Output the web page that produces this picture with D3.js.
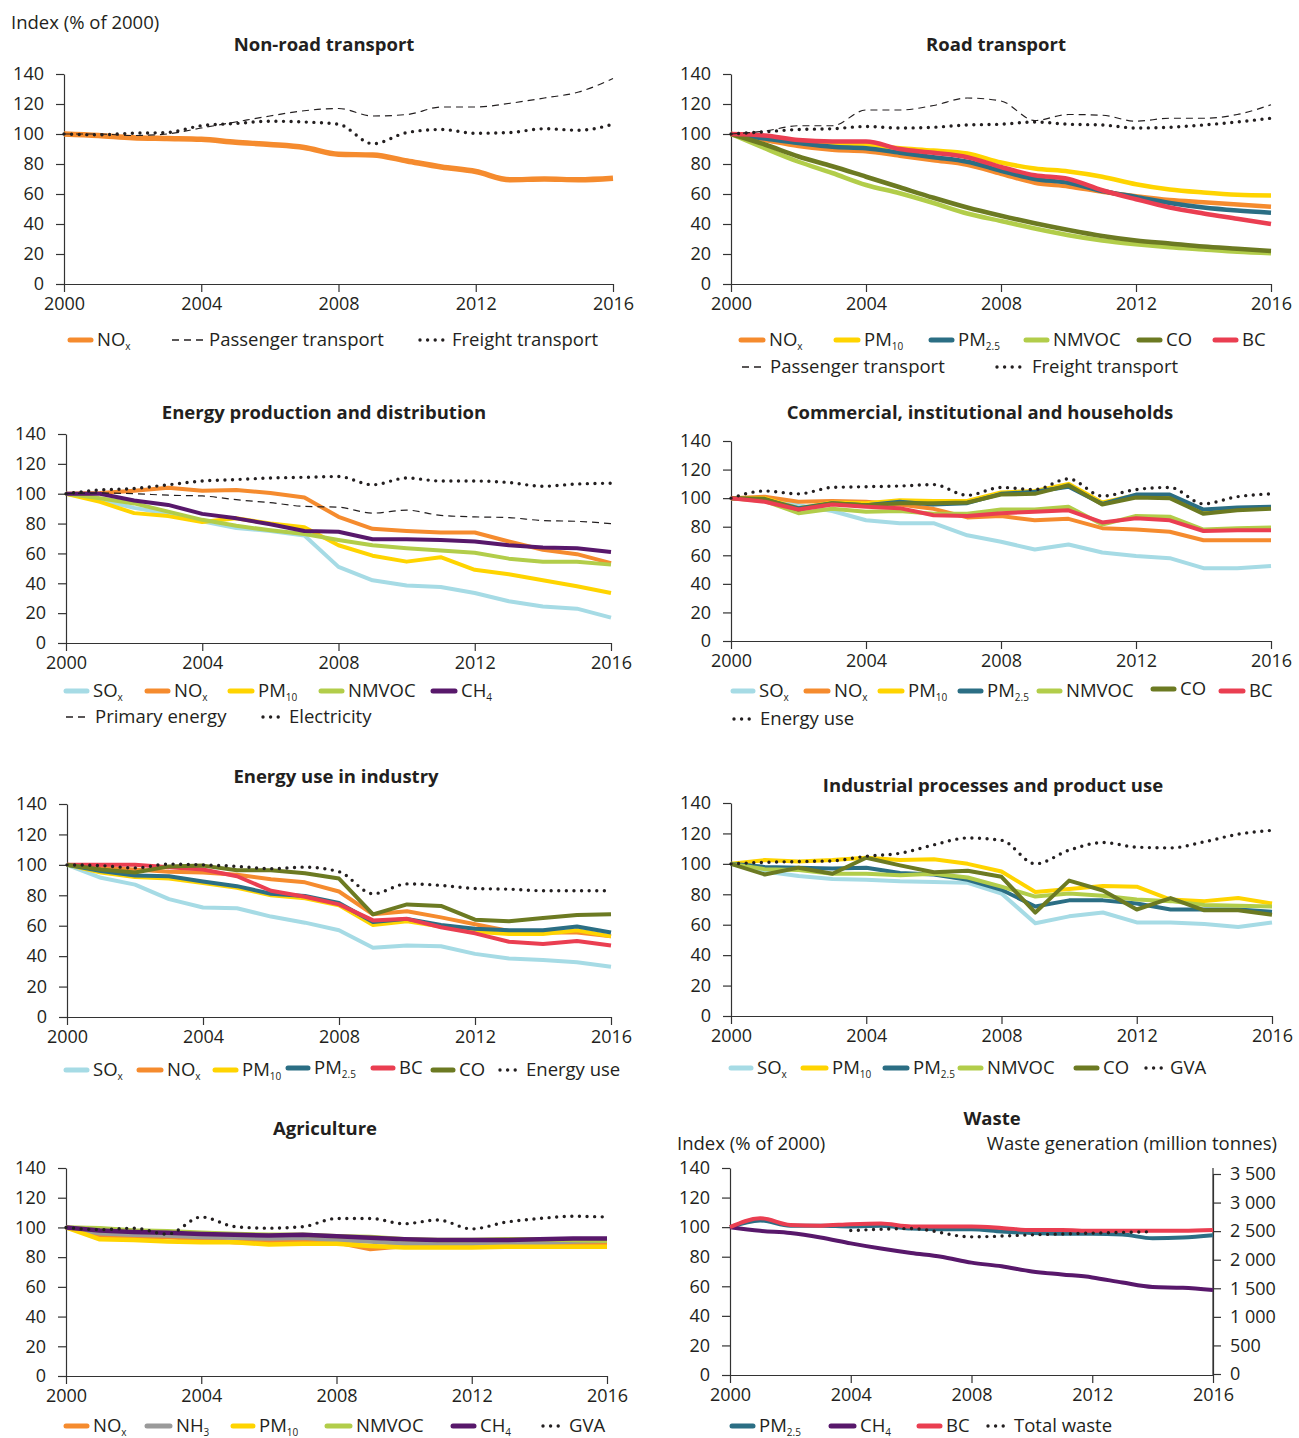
<!DOCTYPE html>
<html>
<head>
<meta charset="utf-8">
<script src="https://cdn.jsdelivr.net/npm/d3@7"></script>
<style>
body { margin: 0; background: #fff; }
svg text { font-family: "Open Sans", sans-serif; fill: #231f20; }
.tick text { font-size: 18px; }
.legend text { font-size: 18.5px; }
</style>
</head>
<body>
<div class="chart"></div>
<script>
const years = [2000,2001,2002,2003,2004,2005,2006,2007,2008,2009,2010,2011,2012,2013,2014,2015,2016];
const xTicks = [2000,2004,2008,2012,2016];
const yTicks = [0,20,40,60,80,100,120,140];
const wasteTicks = [0,500,1000,1500,2000,2500,3000,3500];
const wasteTickLabels = ["0","500","1 000","1 500","2 000","2 500","3 000","3 500"];

// Non-road transport
const nrNOx = [100,99,97.5,97,96.5,94.5,93,91,86.5,86,82,78,75,69.5,70,69.5,70.5];
const nrPassenger = [100,100,99,100,104,108,112,115.5,117,112,113,118,118,120.5,124,128,137];
const nrFreight = [100,99.5,100.5,101,105.5,107,108.5,108,106.5,93.5,101,103,100.5,101,103.5,102.5,106.5];

// Road transport
const rtNOx = [100,96,92,89.5,88.5,85.5,82.5,79.5,73.5,67.5,65,61.5,58.5,56,54.5,53,51.5];
const rtPM10 = [100,97.5,95,93,92.5,90.5,89,87,81,77,75,71.5,66.5,63,61,59.5,59];
const rtPM25 = [100,97,94,91.5,90.5,87.5,84.5,81.5,75.5,70,67.5,62,58,54,51,49,47.5];
const rtNMVOC = [100,90.5,81.5,74,66,60.5,54,47,42,37,32.5,29,26.5,24.5,23,21.5,20.5];
const rtCO = [100,93,85,78.5,71.5,64.5,57.5,51,45.5,40.5,36,32,29,27,25,23.5,22];
const rtBC = [100,99,96,95,95,90,87.5,84.5,78,72.5,70,62.5,56.5,51,47,43.5,40];
const rtPassenger = [100,102,105.5,105.5,116,116,119,124,122,109,113,112.5,108.5,110.5,110.5,113,119.5];
const rtFreight = [100,101.5,103,103.5,105,104,104.5,106,106.5,108,106.5,106,104,104.5,106,108,110.5];

// Energy production and distribution
const epSOx = [100,96,90.5,86.5,81.5,77,75,72,51,42,38.5,37.5,33.5,28,24.5,23,17];
const epNOx = [100,100.5,102,104,102,102.5,100.5,97.5,84.5,76.5,75,74,74,68,62.5,59.5,53.5];
const epPM10 = [100,94.5,87,85,81,83.5,80,77.5,65.5,58.5,54.5,57.5,49,46,42,38,33.5];
const epNMVOC = [100,97,93.5,88,82.5,78.5,75.5,73,69,65.5,63.5,62,60.5,56.5,54.5,54.5,52.5];
const epCH4 = [100,100,95.5,92.5,86.5,83.5,79.5,75,74.5,69.5,69.5,69,68,65.5,64,63.5,61];
const epPrimary = [100,100.5,100,99,98.5,96,94,91.5,91,87,89,85.5,84.5,84,82,81.5,80];
const epElectricity = [100,102.5,103.5,106,108.5,109.5,110.5,111,111.5,106,110.5,108.5,108.5,107.5,105,106.5,107];

// Commercial, institutional and households
const chSOx = [100,99.5,95,91,84.5,82.5,82.5,74,69.5,64,67.5,62,59.5,58,51,51,52.5];
const chNOx = [100,101,97.5,98,97.5,95.5,92.5,86.5,87.5,84.5,85.5,79,78,76.5,70.5,70.5,70.5];
const chPM10 = [100,100,93,97,96.5,98.5,98,98,104,105,110,97,102,101.5,91,93,93.5];
const chPM25 = [100,99,93,96.5,95,97.5,95.5,96.5,103,104.5,108,96,102.5,102.5,92,93.5,94];
const chNMVOC = [100,98,89.5,92.5,90.5,91,89,89,92,92,94,81.5,87.5,87,78,79,79.5];
const chCO = [100,99.5,92,96.5,95,96.5,96.5,97,102.5,103,109,95.5,100.5,100,89,91.5,92.5];
const chBC = [100,97.5,92,95.5,94,93,88,87.5,89.5,90.5,91.5,83,86,84.5,77,77.5,77.5];
const chEnergy = [100,105,103,107.5,108,108.5,109.5,102,107.5,106,113.5,101.5,106,107.5,96,101,103];

// Energy use in industry
const eiSOx = [100,91.5,87,77.5,72,71.5,66,62,57,45.5,47,46.5,41.5,38.5,37.5,36,33];
const eiNOx = [100,98,97,95.5,95,93.5,90.5,88.5,82.5,67.5,69.5,65.5,61,56.5,55.5,55.5,53];
const eiPM10 = [100,95,92,91,88,85,80,78,73.5,60.5,63,59.5,56,54.5,54.5,57,53];
const eiPM25 = [100,96,93,92.5,89,86,81,79.5,75,62.5,64.5,60.5,58,57,57,59.5,55.5];
const eiBC = [100,100,100,98.5,97,92.5,83,79,74,63.5,64.5,59,55,49.5,48,50,47];
const eiCO = [100,97,95,99,99.5,96.5,96.5,94.5,91,67.5,74,73,64,63,65,67,67.5];
const eiEnergy = [100,99.5,98,100.5,100,99,97.5,98.5,95.5,81,87.5,86.5,84.5,84,83,83,83];

// Industrial processes and product use
const ipSOx = [100,95,92,90,89.5,88.5,88,87.5,80.5,61,65.5,68,61.5,61.5,60.5,58.5,61.5];
const ipPM10 = [100,102.5,101.5,102.5,104,102.5,103,100,95,81.5,83.5,85.5,85,76.5,75.5,77.5,74];
const ipPM25 = [100,98,97.5,97,97.5,94,93,89.5,83,72,76,76,74,70,70,70,68.5];
const ipNMVOC = [100,96.5,96,93.5,93.5,92.5,93.5,91,85,78.5,80.5,79,76.5,75.5,73,72.5,72];
const ipCO = [100,93,97.5,93.5,104,99,94.5,95.5,91.5,68,89,82.5,70,77.5,69.5,69.5,66.5];
const ipGVA = [100,101,101.5,102,105,107,112.5,117,115.5,100,109,114,111,110.5,114.5,119.5,122];

// Agriculture
const agNOx = [100,94.5,93.5,93.5,92,90,90,90.5,90,85.5,87.5,87.5,87.5,87.5,87.5,88.5,88.5];
const agNH3 = [100,96,95,94.5,93.5,93,92.5,93,91.5,90.5,89,89,89,89,89.5,90.5,91];
const agPM10 = [100,92,91.5,90.5,90,90,88.5,89,89,87.5,86.5,86.5,86.5,87,87,87,87];
const agNMVOC = [100,99.5,98,97.5,96.5,95.5,95,95,94,93.5,92,91.5,91.5,92,92,91.5,91];
const agCH4 = [100,98,97,96.5,95.5,95,94.5,95,94,93,92,91.5,91.5,91.5,92,92.5,92.5];
const agGVA = [100,98.5,99.5,95.5,107,100.5,99.5,100.5,106,106,102.5,105,99,103.5,106,107.5,107];

// Waste
const wsPM25 = [100,104.5,101,101,100.5,101,99,98.5,98.5,97,96,95.5,95.5,95,92.5,93,94.5];
const wsCH4 = [100,97.5,96,93,89,85.5,82.5,80,76,73.5,70,68,66,62.5,59.5,59,57.5];
const wsBC = [100,106,101.5,101,102,102.5,100.5,100.5,100.5,99.5,98,98,97.5,97.5,97.5,97.5,98];
const wasteYears = [2004,2006,2008,2010,2012,2014];
const wsTotal = [2510,2545,2400,2435,2465,2490];

const colors = {
  "SO_x": "#a6dbe5", "NO_x": "#f58b2e", "PM_10": "#ffd400", "PM_2.5": "#2b6e84",
  "NMVOC": "#b2cd4a", "CO": "#6c7a22", "BC": "#ea3e51", "CH_4": "#58186b", "NH_3": "#9a9a9a"
};

const svg = d3.select('.chart').append('svg')
  .attr('width', 1299)
  .attr('height', 1438);

function addLabel(sel, str) {
  const parts = str.split('_');
  sel.append('tspan').text(parts[0]);
  if (parts[1]) sel.append('tspan').attr('font-size', 10).attr('dy', 4).text(parts[1]);
}

const panels = [
  {title: "Non-road transport", tx: 324, ty: 45, left: 64, right: 613, top: 74, bottom: 284, smooth: true, lw: 5.5,
   series: [["NO_x", nrNOx, "solid"], ["Passenger transport", nrPassenger, "dash"], ["Freight transport", nrFreight, "dot"]],
   legend: [[70, 91, 340, "NO_x"], [172, 203, 340, "Passenger transport"], [420, 446, 340, "Freight transport"]]},
  {title: "Road transport", tx: 996, ty: 45, left: 731, right: 1271, top: 74, bottom: 284, smooth: true, lw: 4.5,
   series: [["NO_x", rtNOx, "solid"], ["PM_10", rtPM10, "solid"], ["PM_2.5", rtPM25, "solid"], ["NMVOC", rtNMVOC, "solid"],
            ["CO", rtCO, "solid"], ["BC", rtBC, "solid"], ["Passenger transport", rtPassenger, "dash"], ["Freight transport", rtFreight, "dot"]],
   legend: [[741, 763, 340, "NO_x"], [836, 858, 340, "PM_10"], [931, 952, 340, "PM_2.5"], [1026, 1047, 340, "NMVOC"],
            [1139, 1160, 340, "CO"], [1215, 1236, 340, "BC"], [742, 764, 367, "Passenger transport"], [997, 1026, 367, "Freight transport"]]},
  {title: "Energy production and distribution", tx: 324, ty: 413, left: 66, right: 611, top: 434, bottom: 643, smooth: false, lw: 4,
   series: [["SO_x", epSOx, "solid"], ["NO_x", epNOx, "solid"], ["PM_10", epPM10, "solid"], ["NMVOC", epNMVOC, "solid"],
            ["CH_4", epCH4, "solid"], ["Primary energy", epPrimary, "dash"], ["Electricity", epElectricity, "dot"]],
   legend: [[66, 87, 691, "SO_x"], [147, 168, 691, "NO_x"], [230, 252, 691, "PM_10"], [321, 342, 691, "NMVOC"],
            [433, 455, 691, "CH_4"], [66, 89, 717, "Primary energy"], [263, 283, 717, "Electricity"]]},
  {title: "Commercial, institutional and households", tx: 980, ty: 413, left: 731, right: 1271, top: 441, bottom: 641, smooth: false, lw: 4,
   series: [["SO_x", chSOx, "solid"], ["NO_x", chNOx, "solid"], ["PM_10", chPM10, "solid"], ["PM_2.5", chPM25, "solid"],
            ["NMVOC", chNMVOC, "solid"], ["CO", chCO, "solid"], ["BC", chBC, "solid"], ["Energy use", chEnergy, "dot"]],
   legend: [[733, 753, 691, "SO_x"], [806, 828, 691, "NO_x"], [880, 902, 691, "PM_10"], [960, 981, 691, "PM_2.5"],
            [1039, 1060, 691, "NMVOC"], [1153, 1174, 689, "CO"], [1221, 1243, 691, "BC"], [734, 754, 719, "Energy use"]]},
  {title: "Energy use in industry", tx: 336, ty: 777, left: 67, right: 611, top: 804, bottom: 1017, smooth: false, lw: 4,
   series: [["SO_x", eiSOx, "solid"], ["NO_x", eiNOx, "solid"], ["PM_10", eiPM10, "solid"], ["PM_2.5", eiPM25, "solid"],
            ["BC", eiBC, "solid"], ["CO", eiCO, "solid"], ["Energy use", eiEnergy, "dot"]],
   legend: [[66, 87, 1070, "SO_x"], [139, 161, 1070, "NO_x"], [215, 236, 1070, "PM_10"], [288, 308, 1068, "PM_2.5"],
            [373, 393, 1068, "BC"], [433, 453, 1070, "CO"], [500, 520, 1070, "Energy use"]]},
  {title: "Industrial processes and product use", tx: 993, ty: 786, left: 731, right: 1272, top: 803, bottom: 1016, smooth: false, lw: 4,
   series: [["SO_x", ipSOx, "solid"], ["PM_10", ipPM10, "solid"], ["PM_2.5", ipPM25, "solid"], ["NMVOC", ipNMVOC, "solid"],
            ["CO", ipCO, "solid"], ["GVA", ipGVA, "dot"]],
   legend: [[731, 751, 1068, "SO_x"], [803, 826, 1068, "PM_10"], [885, 907, 1068, "PM_2.5"], [960, 981, 1068, "NMVOC"],
            [1076, 1097, 1068, "CO"], [1146, 1164, 1068, "GVA"]]},
  {title: "Agriculture", tx: 325, ty: 1129, left: 66, right: 607, top: 1168, bottom: 1376, smooth: false, lw: 4.5,
   series: [["NO_x", agNOx, "solid"], ["NH_3", agNH3, "solid"], ["PM_10", agPM10, "solid"], ["NMVOC", agNMVOC, "solid"],
            ["CH_4", agCH4, "solid"], ["GVA", agGVA, "dot"]],
   legend: [[66, 87, 1426, "NO_x"], [147, 170, 1426, "NH_3"], [233, 253, 1426, "PM_10"], [327, 350, 1426, "NMVOC"],
            [453, 474, 1426, "CH_4"], [543, 563, 1426, "GVA"]]},
  {title: "Waste", tx: 992, ty: 1119, left: 730, right: 1213, top: 1168, bottom: 1375, smooth: true, lw: 4,
   rightAxis: {top: 1174, bottom: 1374},
   series: [["PM_2.5", wsPM25, "solid"], ["CH_4", wsCH4, "solid"], ["BC", wsBC, "solid"], ["Total waste", wsTotal, "dot", wasteYears, "right"]],
   legend: [[732, 753, 1426, "PM_2.5"], [831, 854, 1426, "CH_4"], [919, 940, 1426, "BC"], [988, 1008, 1426, "Total waste"]]}
];

function styleFor(path, type, key, lw) {
  if (type === 'solid') {
    path.attr('stroke', colors[key]).attr('stroke-width', lw).attr('stroke-linejoin', 'round');
  } else if (type === 'dash') {
    path.attr('stroke', '#231f20').attr('stroke-width', 1.2).attr('stroke-dasharray', '7 5');
  } else {
    path.attr('stroke', '#231f20').attr('stroke-width', 3.4).attr('stroke-linecap', 'round').attr('stroke-dasharray', '0 7.6');
  }
  return path;
}

panels.forEach(p => {
  const x = d3.scaleLinear().domain([2000, 2016]).range([p.left, p.right]);
  const y = d3.scaleLinear().domain([0, 140]).range([p.bottom, p.top]);
  const g = svg.append('g');

  g.append('text')
    .attr('x', p.tx).attr('y', p.ty + 6)
    .attr('text-anchor', 'middle')
    .attr('font-weight', 'bold')
    .attr('font-size', 18.5)
    .text(p.title);

  g.append('g')
    .attr('transform', `translate(0,${p.bottom})`)
    .call(d3.axisBottom(x).tickValues(xTicks).tickFormat(d3.format('d')).tickSize(8).tickSizeOuter(0).tickPadding(5));
  g.append('g')
    .attr('transform', `translate(${p.left},0)`)
    .call(d3.axisLeft(y).tickValues(yTicks).tickSize(8).tickSizeOuter(0).tickPadding(12));

  let y2 = null;
  if (p.rightAxis) {
    y2 = d3.scaleLinear().domain([0, 3500]).range([p.rightAxis.bottom, p.rightAxis.top]);
    g.append('g')
      .attr('transform', `translate(${p.right},0)`)
      .call(d3.axisRight(y2).tickValues(wasteTicks).tickFormat((d, i) => wasteTickLabels[i]).tickSize(8).tickSizeOuter(0).tickPadding(9));
    g.append('path')
      .attr('d', `M${p.right},${p.top}V${p.bottom}`)
      .attr('stroke', '#333').attr('stroke-width', 1.2);
  }

  g.selectAll('.domain, .tick line').attr('stroke', '#333').attr('stroke-width', 1.2);

  const solids = p.series.filter(s => s[2] === 'solid');
  const others = p.series.filter(s => s[2] !== 'solid');
  solids.concat(others).forEach(s => {
    const [key, values, type, xs, axis] = s;
    const xv = xs || years;
    const ys = axis === 'right' ? y2 : y;
    const line = d3.line()
      .x((d, i) => x(xv[i]))
      .y(d => ys(d))
      .curve(p.smooth || type !== 'solid' ? d3.curveMonotoneX : d3.curveLinear);
    styleFor(g.append('path').datum(values).attr('fill', 'none').attr('d', line), type, key, p.lw);
  });

  const legend = g.selectAll('.legend')
    .data(p.legend)
    .enter()
    .append('g')
    .attr('class', 'legend');
  legend.each(function(item) {
    const [x1, x2, ly, key] = item;
    const s = p.series.find(d => d[0] === key);
    const el = d3.select(this);
    const sw = el.append('path').attr('d', `M${x1},${ly}H${x2}`).attr('fill', 'none');
    if (s[2] === 'solid') {
      sw.attr('stroke', colors[key]).attr('stroke-width', 5).attr('stroke-linecap', 'round');
    } else if (s[2] === 'dash') {
      sw.attr('stroke', '#231f20').attr('stroke-width', 1.6).attr('stroke-dasharray', '7 5');
    } else {
      styleFor(sw, s[2], key, 5);
    }
    const t = el.append('text').attr('x', x2 + 6).attr('y', ly + 6);
    addLabel(t, key);
  });
});

svg.append('text').attr('x', 11).attr('y', 29).attr('font-size', 18.5).text('Index (% of 2000)');
svg.append('text').attr('x', 677).attr('y', 1150).attr('font-size', 18.5).text('Index (% of 2000)');
svg.append('text').attr('x', 1277).attr('y', 1150).attr('font-size', 18.5).attr('text-anchor', 'end').text('Waste generation (million tonnes)');
</script>
</body>
</html>
